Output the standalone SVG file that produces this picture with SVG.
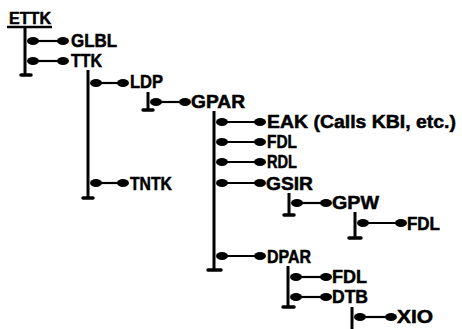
<svg xmlns="http://www.w3.org/2000/svg" width="462" height="329" viewBox="0 0 462 329">
<style>
text{font-family:"Liberation Sans",Arial,sans-serif;font-weight:bold;font-size:18px;fill:#000;stroke:#000;stroke-width:0.5}
.v{stroke:#000;stroke-width:3;fill:none}
.f{stroke:#000;stroke-width:3.5;stroke-linecap:round;fill:none}
.a{stroke:#000;stroke-width:2.2;fill:none;marker-start:url(#o);marker-end:url(#o)}
</style>
<defs>
<marker id="o" viewBox="-8 -6 16 12" markerWidth="16" markerHeight="12" markerUnits="userSpaceOnUse" orient="auto" refX="0" refY="0" overflow="visible">
<ellipse cx="0" cy="0" rx="6" ry="4" fill="#000"/>
</marker>
</defs>
<rect width="462" height="329" fill="#fff"/>
<g id="connectors">
<line class="v" x1="7" y1="27" x2="52" y2="27" style="stroke-width:2.5"/>
<line class="v" x1="25" y1="27" x2="25" y2="75"/><line class="f" x1="21" y1="75" x2="31" y2="75"/>
<line class="a" x1="33" y1="41" x2="63" y2="41"/>
<line class="a" x1="33" y1="61" x2="63" y2="61"/>
<line class="v" x1="88" y1="70" x2="88" y2="198"/><line class="f" x1="83" y1="198" x2="93" y2="198"/>
<line class="a" x1="96" y1="83" x2="123" y2="83"/>
<line class="a" x1="96" y1="183" x2="123" y2="183"/>
<line class="v" x1="148" y1="92" x2="148" y2="110"/><line class="f" x1="143" y1="110" x2="153" y2="110"/>
<line class="a" x1="156" y1="102" x2="185" y2="102"/>
<line class="v" x1="214" y1="111" x2="214" y2="270"/><line class="f" x1="208" y1="270" x2="221" y2="270"/>
<line class="a" x1="222" y1="122" x2="260" y2="122"/>
<line class="a" x1="222" y1="142" x2="260" y2="142"/>
<line class="a" x1="222" y1="162" x2="260" y2="162"/>
<line class="a" x1="222" y1="183" x2="260" y2="183"/>
<line class="a" x1="222" y1="256" x2="260" y2="256"/>
<line class="v" x1="289" y1="193" x2="289" y2="215"/><line class="f" x1="284" y1="215" x2="294" y2="215"/>
<line class="a" x1="297" y1="203" x2="326" y2="203"/>
<line class="v" x1="355" y1="212" x2="355" y2="238"/><line class="f" x1="349" y1="238" x2="361" y2="238"/>
<line class="a" x1="363" y1="223" x2="401" y2="223"/>
<line class="v" x1="288" y1="266" x2="288" y2="307"/><line class="f" x1="283" y1="307" x2="294" y2="307"/>
<line class="a" x1="296" y1="277" x2="326" y2="277"/>
<line class="a" x1="296" y1="297" x2="326" y2="297"/>
<line class="v" x1="352" y1="307" x2="352" y2="332"/>
<line class="a" x1="360" y1="317" x2="391" y2="317"/>
</g>
<g id="ETTK"><text x="9" y="24" style="font-size:17px" textLength="42" lengthAdjust="spacingAndGlyphs">ETTK</text></g>
<g id="GLBL"><text x="71" y="47" textLength="46" lengthAdjust="spacingAndGlyphs">GLBL</text></g>
<g id="TTK"><text x="71" y="67" textLength="31" lengthAdjust="spacingAndGlyphs">TTK</text></g>
<g id="LDP"><text x="130" y="88" textLength="33" lengthAdjust="spacingAndGlyphs">LDP</text></g>
<g id="TNTK"><text x="130" y="190" textLength="42" lengthAdjust="spacingAndGlyphs">TNTK</text></g>
<g id="GPAR"><text x="191" y="108" textLength="54" lengthAdjust="spacingAndGlyphs">GPAR</text></g>
<g id="EAK"><text x="267" y="128" textLength="189" lengthAdjust="spacingAndGlyphs">EAK (Calls KBI, etc.)</text></g>
<g id="FDL1"><text x="267" y="148" textLength="30" lengthAdjust="spacingAndGlyphs">FDL</text></g>
<g id="RDL"><text x="267" y="168" textLength="30" lengthAdjust="spacingAndGlyphs">RDL</text></g>
<g id="GSIR"><text x="266" y="190" textLength="47" lengthAdjust="spacingAndGlyphs">GSIR</text></g>
<g id="DPAR"><text x="267" y="263" textLength="44" lengthAdjust="spacingAndGlyphs">DPAR</text></g>
<g id="GPW"><text x="332" y="209" textLength="47" lengthAdjust="spacingAndGlyphs">GPW</text></g>
<g id="FDL2"><text x="407" y="230" textLength="33" lengthAdjust="spacingAndGlyphs">FDL</text></g>
<g id="FDL3"><text x="332" y="283" textLength="35" lengthAdjust="spacingAndGlyphs">FDL</text></g>
<g id="DTB"><text x="332" y="303" textLength="36" lengthAdjust="spacingAndGlyphs">DTB</text></g>
<g id="XIO"><text x="397" y="323" textLength="36" lengthAdjust="spacingAndGlyphs">XIO</text></g>
</svg>
